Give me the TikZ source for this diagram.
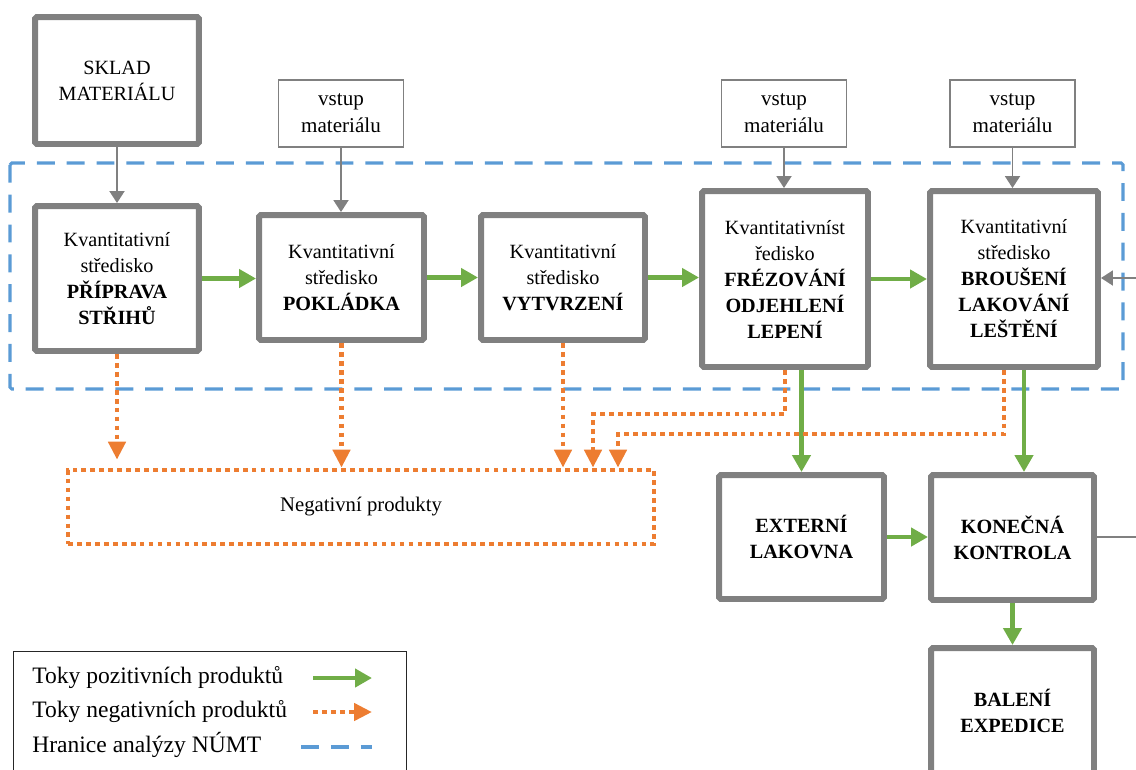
\documentclass[tikz,border=0pt]{standalone}
\usepackage{fontspec}
\setmainfont{Liberation Serif}
\usetikzlibrary{arrows.meta}

\definecolor{boxgray}{RGB}{128,128,128}
\definecolor{tokgreen}{RGB}{112,173,71}
\definecolor{tokorange}{RGB}{237,125,49}
\definecolor{hranblue}{RGB}{91,155,213}

\tikzset{
  stredisko/.style={draw=boxgray, line width=3.4pt, fill=white, rounded corners=1pt,
    align=center, inner sep=0pt, font=\fontsize{11.5}{14.8}\selectfont},
  vstup/.style={draw=boxgray, line width=1.1pt, fill=white, align=center, inner sep=0pt,
    minimum width=2.5cm, minimum height=1.34cm, font=\fontsize{12}{15.4}\selectfont},
  kladny/.style={draw=tokgreen, line width=2.8pt, -{Triangle[width=0.36cm,length=0.34cm]}},
  zaporny/.style={draw=tokorange, line width=2.7pt, dash pattern=on 2.7pt off 2.4pt,
    -{Triangle[width=0.34cm,length=0.36cm]}},
  vstupni/.style={draw=boxgray, line width=1.1pt, -{Triangle[width=0.3cm,length=0.24cm]}},
  hranice/.style={draw=hranblue, line width=1.8pt, dash pattern=on 10.2pt off 6.8pt},
  odpad/.style={draw=tokorange, line width=2.7pt, dash pattern=on 2.7pt off 2.4pt,
    font=\fontsize{11.8}{14}\selectfont},
  legtext/.style={anchor=west, inner sep=0pt, font=\fontsize{13.4}{15}\selectfont}
}

\begin{document}
\begin{tikzpicture}[x=0.02cm, y=-0.02cm]
    \useasboundingbox (0,0) rectangle (1136,769);
    \clip (0,0) rectangle (1136,769);

    % Hranice analyzy
    \draw[hranice, rounded corners=1pt] (10,163) rectangle (1123,389);

    % Sklad a vstupy materialu
    \node[stredisko, minimum width=3.28cm, minimum height=2.54cm] (sklad) at (117,80.5) {SKLAD\\MATERIÁLU};
    \node[vstup] (vstupA) at (341,113.5) {vstup\\materiálu};
    \node[vstup] (vstupB) at (784,113.5) {vstup\\materiálu};
    \node[vstup] (vstupC) at (1012.5,113.5) {vstup\\materiálu};

    % Kvantitativni strediska
    \node[stredisko, minimum width=3.28cm, minimum height=2.9cm] (priprava) at (117,278.5)
        {Kvantitativní\\středisko\\\textbf{PŘÍPRAVA}\\\textbf{STŘIHŮ}};
    \node[stredisko, minimum width=3.3cm, minimum height=2.5cm] (pokladka) at (341.5,277.5)
        {Kvantitativní\\středisko\\\textbf{POKLÁDKA}};
    \node[stredisko, minimum width=3.28cm, minimum height=2.5cm] (vytvrzeni) at (563,277.5)
        {Kvantitativní\\středisko\\\textbf{VYTVRZENÍ}};
    \node[stredisko, minimum width=3.32cm, minimum height=3.52cm] (frezovani) at (785,279)
        {Kvantitativníst\\ředisko\\\textbf{FRÉZOVÁNÍ}\\\textbf{ODJEHLENÍ}\\\textbf{LEPENÍ}};
    \node[stredisko, minimum width=3.36cm, minimum height=3.52cm] (brouseni) at (1014,279)
        {Kvantitativní\\středisko\\\textbf{BROUŠENÍ}\\\textbf{LAKOVÁNÍ}\\\textbf{LEŠTĚNÍ}};

    % Negativni produkty
    \node[odpad, minimum width=11.72cm, minimum height=1.48cm] (negativni) at (361,507) {Negativní produkty};

    % Dalsi operace
    \node[stredisko, minimum width=3.3cm, minimum height=2.48cm] (externi) at (801.5,537)
        {\textbf{EXTERNÍ}\\\textbf{LAKOVNA}};
    \node[stredisko, minimum width=3.26cm, minimum height=2.5cm] (konecna) at (1012.5,537.5)
        {\textbf{KONEČNÁ}\\\textbf{KONTROLA}};
    \node[stredisko, minimum width=3.26cm, minimum height=2.5cm] (baleni) at (1012.5,710.5)
        {\textbf{BALENÍ}\\\textbf{EXPEDICE}};

    % Vstupy do stredisek
    \draw[vstupni] (sklad.south) -- (priprava.north);
    \draw[vstupni] (vstupA.south) -- (vstupA.south |- pokladka.north);
    \draw[vstupni] (vstupB.south) -- (vstupB.south |- frezovani.north);
    \draw[vstupni] (vstupC.south) -- (vstupC.south |- brouseni.north);
    \coordinate (okrajP) at (1136,278);
    \draw[vstupni] (okrajP) -- (okrajP -| brouseni.east);
    \coordinate (okrajK) at (1136,537);
    \draw[draw=boxgray, line width=1.1pt] (konecna.east) -- (okrajK -| konecna.east) -- (okrajK);

    % Toky pozitivnich produktu
    \draw[kladny] (priprava.east) -- (priprava.east -| pokladka.west);
    \draw[kladny] (pokladka.east) -- (vytvrzeni.west);
    \draw[kladny] (vytvrzeni.east) -- (vytvrzeni.east -| frezovani.west);
    \draw[kladny] (frezovani.east) -- (brouseni.west);
    \draw[kladny] (frezovani.south -| externi.north) -- (externi.north);
    \draw[kladny] ([xshift=0.2cm]brouseni.south) -- ([xshift=0.2cm]brouseni.south |- konecna.north);
    \draw[kladny] (externi.east) -- (externi.east -| konecna.west);
    \draw[kladny] (konecna.south) -- (baleni.north);

    % Toky negativnich produktu
    \draw[zaporny] (priprava.south) -- ([yshift=0.16cm]priprava.south |- negativni.north);
    \draw[zaporny] (pokladka.south) -- (pokladka.south |- negativni.north);
    \draw[zaporny] (vytvrzeni.south) -- (vytvrzeni.south |- negativni.north);
    \coordinate (zlomA) at (593,414);
    \coordinate (zlomB) at (618,434);
    \draw[zaporny] (frezovani.south) |- (zlomA) -- (zlomA |- negativni.north);
    \draw[zaporny] ([xshift=-0.2cm]brouseni.south) |- (zlomB) -- (zlomB |- negativni.north);

    % Legenda
    \node[draw=black!85, line width=0.6pt, minimum width=7.86cm, minimum height=3cm,
        anchor=north west, inner sep=0pt] (legenda) at (13,651) {};
    \node[legtext] (legKladny) at (32,677) {Toky pozitivních produktů};
    \node[legtext] (legZaporny) at (32,711) {Toky negativních produktů};
    \node[legtext] (legHranice) at (32,745) {Hranice analýzy NÚMT};
    \coordinate (kladnyA) at (313,678);
    \coordinate (kladnyB) at (372,678);
    \coordinate (zapornyA) at (313,712);
    \coordinate (zapornyB) at (372,712);
    \coordinate (hraniceA) at (301,747);
    \coordinate (hraniceB) at (372,747);
    \draw[kladny] (kladnyA) -- (kladnyB);
    \draw[zaporny] (zapornyA) -- (zapornyB);
    \draw[hranice] (hraniceA) -- (hraniceB);
\end{tikzpicture}
\end{document}
